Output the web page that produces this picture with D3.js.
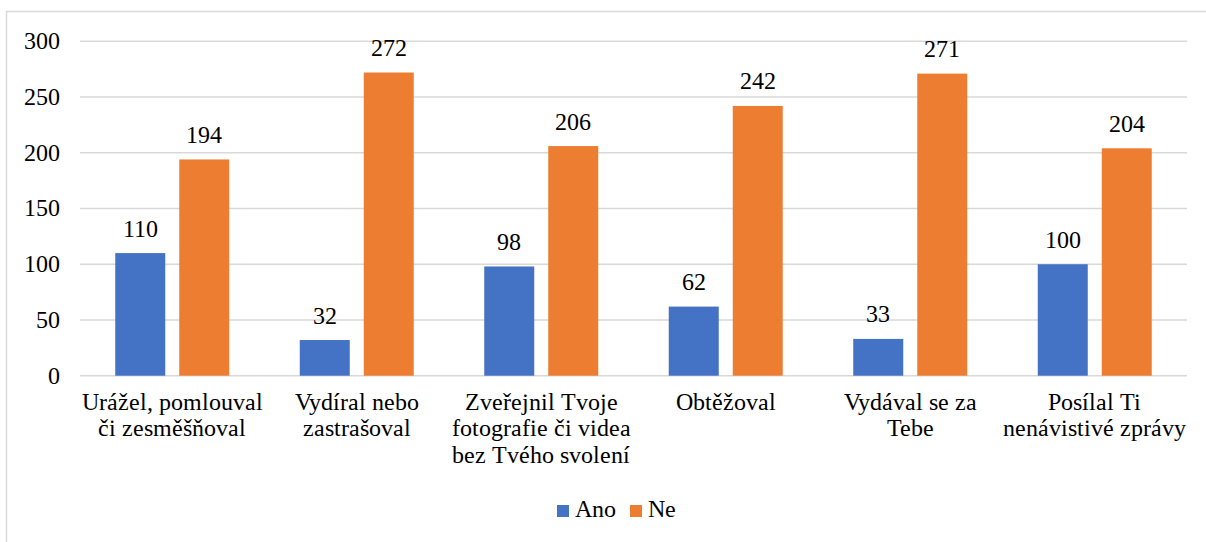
<!DOCTYPE html>
<html>
<head>
<meta charset="utf-8">
<script src="https://cdn.jsdelivr.net/npm/d3@7"></script>
<style>
  @font-face {
    font-family: 'ChartSerif';
    src: local('Liberation Serif'), local('LiberationSerif'), local('LiberationSerif-Regular'), local('Times New Roman');
  }
</style>
</head>
<body style="margin:0">
<script>
// data (line breaks as in the original axis labels)
var categories = [
  'Urážel, pomlouval\nči zesměšňoval',
  'Vydíral nebo\nzastrašoval',
  'Zveřejnil Tvoje\nfotografie či videa\nbez Tvého svolení',
  'Obtěžoval',
  'Vydával se za\nTebe',
  'Posílal Ti\nnenávistivé zprávy'
];
var seriesNames = ['Ano', 'Ne'];
var ano = [110, 32, 98, 62, 33, 100];
var ne = [194, 272, 206, 242, 271, 204];
var yTicks = [0, 50, 100, 150, 200, 250, 300];
var colors = ['#4472C4', '#ED7D31'];

var width = 1206, height = 542;
var margin = { left: 80, right: 19, top: 41.3, bottom: 166 };
var fontSize = 24;

var svg = d3.select('body').append('svg')
  .attr('width', width)
  .attr('height', height);

// every label: same font
function label(sel) {
  return sel.style('font-family', "ChartSerif, 'Liberation Serif', serif")
    .style('font-size', fontSize + 'px');
}

// frame
svg.append('rect')
  .attr('x', 6.5).attr('y', 11.5)
  .attr('width', width + 10).attr('height', height + 10)
  .attr('fill', 'none')
  .attr('stroke', '#d9d9d9')
  .attr('stroke-width', 1.5);

var x0 = d3.scaleBand()
  .domain(d3.range(categories.length))
  .range([margin.left, width - margin.right]);

// two bars 50px wide with 14px gap, centred in each band
var x1 = d3.scaleBand()
  .domain(seriesNames)
  .range([x0.bandwidth() / 2 - 57, x0.bandwidth() / 2 + 57])
  .paddingInner(14 / 64)
  .paddingOuter(0);

var y = d3.scaleLinear()
  .domain([0, 300])
  .range([height - margin.bottom - 0.3, margin.top]);

// gridlines
svg.append('g')
  .selectAll('line')
  .data(yTicks)
  .enter().append('line')
  .attr('x1', margin.left)
  .attr('x2', width - margin.right)
  .attr('y1', function(d) { return y(d); })
  .attr('y2', function(d) { return y(d); })
  .attr('stroke', '#d9d9d9')
  .attr('stroke-width', 1.5);

// y tick labels
svg.append('g')
  .selectAll('text')
  .data(yTicks)
  .enter().append('text')
  .attr('x', 60)
  .attr('y', function(d) { return y(d); })
  .attr('dy', '0.33em')
  .attr('text-anchor', 'end')
  .call(label)
  .text(function(d) { return d; });

// bars
var rows = categories.map(function(c, i) {
  return { i: i, values: [
    { key: 'Ano', value: ano[i] },
    { key: 'Ne', value: ne[i] }
  ] };
});

var groups = svg.selectAll('.group')
  .data(rows)
  .enter().append('g')
  .attr('class', 'group')
  .attr('transform', function(d) { return 'translate(' + x0(d.i) + ',0)'; });

groups.selectAll('rect')
  .data(function(d) { return d.values; })
  .enter().append('rect')
  .attr('x', function(d) { return x1(d.key); })
  .attr('width', x1.bandwidth())
  .attr('y', function(d) { return y(d.value); })
  .attr('height', function(d) { return y(0) - y(d.value); })
  .attr('fill', function(d, i) { return colors[i]; });

groups.selectAll('.val')
  .data(function(d) { return d.values; })
  .enter().append('text')
  .attr('class', 'val')
  .attr('x', function(d) { return x1(d.key) + x1.bandwidth() / 2; })
  .attr('y', function(d) { return y(d.value) - 16.5; })
  .attr('text-anchor', 'middle')
  .call(label)
  .text(function(d) { return d.value; });

// category labels
var catLabels = svg.append('g')
  .selectAll('text')
  .data(categories)
  .enter().append('text')
  .attr('text-anchor', 'middle')
  .call(label)
  .attr('transform', function(d, i) {
    return 'translate(' + (x0(i) + x0.bandwidth() / 2) + ',410)';
  });

catLabels.selectAll('tspan')
  .data(function(d) { return d.split('\n'); })
  .enter().append('tspan')
  .attr('x', 0)
  .attr('y', function(d, i) { return i * 26.3; })
  .text(function(d) { return d; });

// legend
var legend = svg.append('g').attr('transform', 'translate(557,517)');
var legendX = [0, 73];
seriesNames.forEach(function(name, i) {
  var g = legend.append('g').attr('transform', 'translate(' + legendX[i] + ',0)');
  g.append('rect')
    .attr('x', 0).attr('y', -12)
    .attr('width', 12).attr('height', 12)
    .attr('fill', colors[i]);
  g.append('text')
    .attr('x', 18).attr('y', 0)
    .call(label)
    .text(name);
});
</script>
</body>
</html>
